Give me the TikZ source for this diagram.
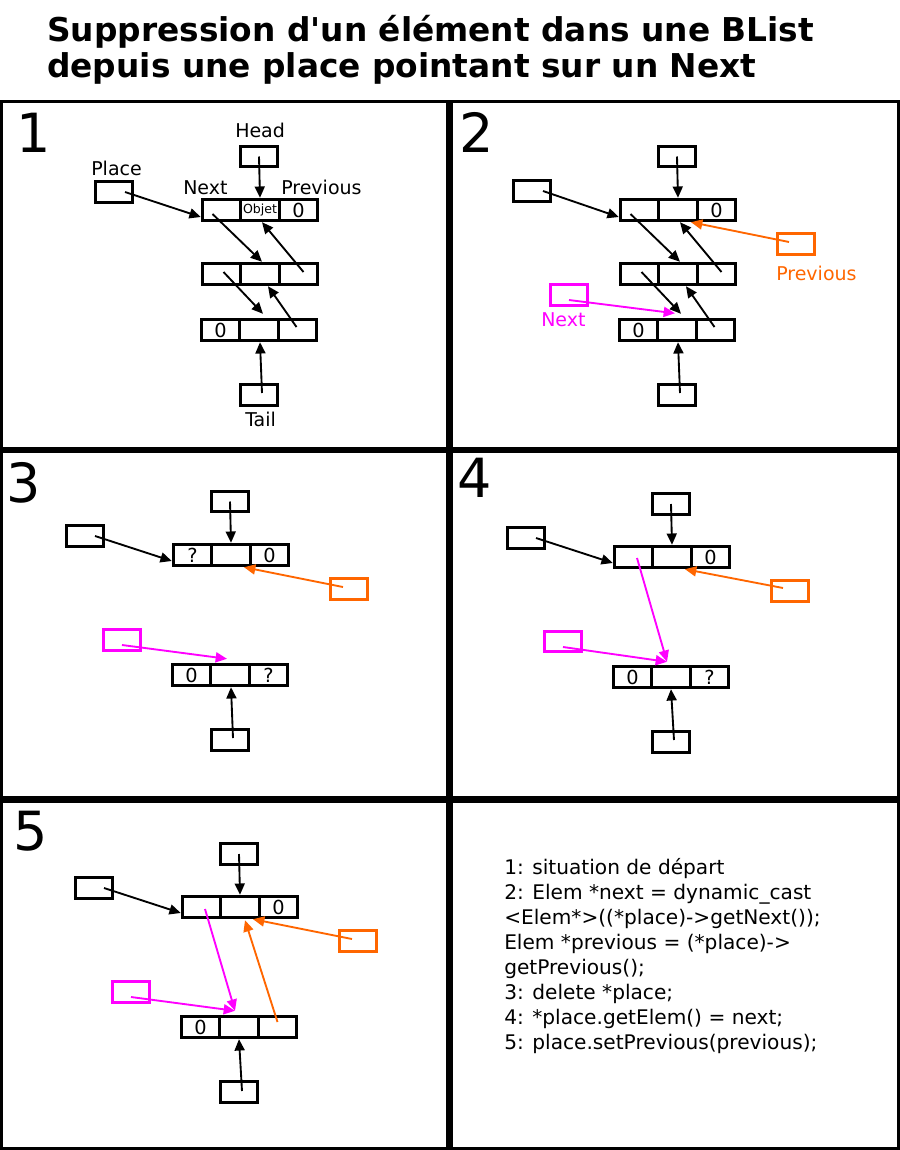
\documentclass[tikz,border=0pt]{standalone}
\usepackage{fontspec}
\setmainfont{DejaVu Sans}
\usetikzlibrary{arrows.meta,calc}
\definecolor{prevcol}{HTML}{FF6600}
\definecolor{nextcol}{HTML}{FF00FF}
\newcommand{\elem}[6]{%
  \node[cell] (#1_a) at (#2-38.5,#3) {#4};
  \node[cell] (#1_b) at (#2,#3) {#5};
  \node[cell] (#1_c) at (#2+38.5,#3) {#6};
}

\begin{document}
\begin{tikzpicture}[x=0.75pt,y=-0.75pt]
			\tikzset{cell/.style={draw, line width=2.2pt, minimum width=28.9pt, minimum height=16.1pt, inner sep=0pt, font=\fontsize{14.5pt}{16pt}\selectfont},
				ptr/.style={draw, line width=2.2pt, minimum width=28.1pt, minimum height=15.4pt, inner sep=0pt},
				lbl/.style={inner sep=0pt, anchor=base west, font=\fontsize{14.25pt}{16pt}\selectfont},
				num/.style={inner sep=0pt, anchor=base west, font=\fontsize{40.5pt}{44pt}\selectfont},
				code/.style={inner sep=0pt, anchor=base west, font=\fontsize{15.1pt}{18pt}\selectfont},
				link/.style={-{Triangle[length=8.5pt,width=7.5pt]}, line width=1.4pt},
				frame/.style={line width=2.4pt}}
			\useasboundingbox (0,0) rectangle (900,1150);
			
			\node[inner sep=0pt, anchor=base west, font=\fontsize{24.6pt}{26pt}\selectfont\bfseries] (title_1) at (47,41.7) {Suppression d\textquotesingle un élément dans une BList};
			\node[inner sep=0pt, anchor=base west, font=\fontsize{24.6pt}{26pt}\selectfont\bfseries] (title_2) at (47,77) {depuis une place pointant sur un Next};
			
			\draw[frame] (1.5,101.5) rectangle (448,448.5);
			\draw[frame] (451.5,101.5) rectangle (898.5,448.5);
			\draw[frame] (1.5,451) rectangle (448,798);
			\draw[frame] (451.5,451) rectangle (898.5,798);
			\draw[frame] (1.5,801) rectangle (448,1148.5);
			\draw[frame] (451.5,801) rectangle (898.5,1148.5);
			
			\node[num] (num_1) at (16,152) {1};
			\node[num] (num_2) at (459,152) {2};
			\node[num] (num_3) at (6,502) {3};
			\node[num] (num_4) at (457,497) {4};
			\node[num] (num_5) at (13,850) {5};
			
			% 1
			\elem{a1}{260}{210}{}{\fontsize{9.4pt}{10pt}\selectfont Objet}{0}
			\elem{a2}{260}{274}{}{}{}
			\elem{a3}{259}{330}{0}{}{}
			\node[ptr] (aH) at (259,156.5) {};
			\node[ptr] (aT) at (259,395) {};
			\node[ptr] (aP) at (114,192) {};
			\node[lbl] (aH_l) at (235,137) {Head};
			\node[lbl] (aP_l) at (91,175) {Place};
			\node[lbl] (aN_l) at (183,194) {Next};
			\node[lbl] (aV_l) at (281,194) {Previous};
			\node[lbl] (aT_l) at (245,426.7) {Tail};
			
			\draw[link] (aH.center) -- (a1_b.north);
			\draw[link] ($(aP.center)+(11,0)$) -- ($(a1_a.west)+(0,7)$);
			\draw[link] ($(a1_a.center)+(-9,4)$) -- ($(a2_b.north)+(2,0)$);
			\draw[link] ($(a2_c.center)+(5,-2)$) -- ($(a1_b.south)+(2,0)$);
			\draw[link] ($(a2_a.center)+(2,-2)$) -- ($(a3_b.north)+(4,-4)$);
			\draw[link] ($(a3_c.center)+(-1,-3)$) -- ($(a2_b.south)+(8,0)$);
			\draw[link] ($(aT.center)+(3,-2)$) -- ($(a3_b.south)+(1,0)$);
			
			% 2
			\elem{b1}{678}{210}{}{}{0}
			\elem{b2}{678}{274}{}{}{}
			\elem{b3}{677}{330}{0}{}{}
			\node[ptr] (bH) at (677,156.5) {};
			\node[ptr] (bT) at (677,395) {};
			\node[ptr] (bP) at (532,191) {};
			\node[ptr, prevcol] (bO) at (796,244) {};
			\node[ptr, nextcol] (bM) at (569,295) {};
			\node[lbl, prevcol] (bO_l) at (776,280) {Previous};
			\node[lbl, nextcol] (bM_l) at (541,326.7) {Next};
			
			\draw[link] (bH.center) -- (b1_b.north);
			\draw[link] ($(bP.center)+(11,0)$) -- ($(b1_a.west)+(0,7)$);
			\draw[link] ($(b1_a.center)+(-9,4)$) -- ($(b2_b.north)+(2,0)$);
			\draw[link] ($(b2_c.center)+(5,-2)$) -- ($(b1_b.south)+(2,0)$);
			\draw[link] ($(b2_a.center)+(2,-2)$) -- ($(b3_b.north)+(4,-4)$);
			\draw[link] ($(b3_c.center)+(-1,-3)$) -- ($(b2_b.south)+(8,0)$);
			\draw[link] ($(bT.center)+(3,-2)$) -- ($(b3_b.south)+(1,0)$);
			\draw[link, prevcol] ($(bO.center)+(-7,-2)$) -- ($(b1_b.south)+(13,0)$);
			\draw[link, nextcol] ($(bM.center)+(0,5)$) -- ($(b3_b.north)+(-2,-4.5)$);
			
			% 3
			\elem{c1}{231}{555}{?}{}{0}
			\elem{c2}{230}{675}{0}{}{?}
			\node[ptr] (cH) at (230,501.5) {};
			\node[ptr] (cT) at (230,740) {};
			\node[ptr] (cP) at (85,536) {};
			\node[ptr, prevcol] (cO) at (349,589) {};
			\node[ptr, nextcol] (cM) at (122,640) {};
			
			\draw[link] (cH.center) -- (c1_b.north);
			\draw[link] ($(cP.center)+(10,0)$) -- ($(c1_a.west)+(0,6)$);
			\draw[link, prevcol] ($(cO.center)+(-6,-2)$) -- ($(c1_b.south)+(13,0)$);
			\draw[link, nextcol] ($(cM.center)+(0,5)$) -- ($(c2_b.north)+(-3,-4)$);
			\draw[link] ($(cT.center)+(3,-2)$) -- ($(c2_b.south)+(1,0)$);
			
			% 4
			\elem{d1}{672}{557}{}{}{0}
			\elem{d2}{671}{677}{0}{}{?}
			\node[ptr] (dH) at (671,504) {};
			\node[ptr] (dT) at (671,742) {};
			\node[ptr] (dP) at (526,538) {};
			\node[ptr, prevcol] (dO) at (790,591) {};
			\node[ptr, nextcol] (dM) at (563,641.5) {};
			\coordinate (dX) at ($(d2_b.north)+(-4,-3)$);
			
			\draw[link] (dH.center) -- (d1_b.north);
			\draw[link] ($(dP.center)+(10,0)$) -- ($(d1_a.west)+(0,6)$);
			\draw[link, prevcol] ($(dO.center)+(-7,-3)$) -- ($(d1_b.south)+(13,0)$);
			\draw[link, nextcol] ($(d1_a.center)+(3.5,1)$) -- (dX);
			\draw[link, nextcol] ($(dM.center)+(0,5.5)$) -- (dX);
			\draw[link] ($(dT.center)+(3,-2)$) -- (d2_b.south);
			
			% 5
			\elem{e1}{240}{907}{}{}{0}
			\elem{e2}{239}{1027}{0}{}{}
			\node[ptr] (eH) at (239,854) {};
			\node[ptr] (eT) at (239,1092) {};
			\node[ptr] (eP) at (94,888) {};
			\node[ptr, prevcol] (eO) at (358,941) {};
			\node[ptr, nextcol] (eM) at (131,992) {};
			\coordinate (eX) at ($(e2_b.north)+(-4,-4)$);
			
			\draw[link] (eH.center) -- (e1_b.north);
			\draw[link] ($(eP.center)+(10,0)$) -- ($(e1_a.west)+(0,6)$);
			\draw[link, prevcol] ($(eO.center)+(-6,-2)$) -- ($(e1_b.south)+(13,0)$);
			\draw[link, prevcol] ($(e2_c.center)+(0,-5)$) -- ($(e1_b.south)+(5,1)$);
			\draw[link, nextcol] ($(e1_a.center)+(3.5,2)$) -- (eX);
			\draw[link, nextcol] ($(eM.center)+(0,5)$) -- (eX);
			\draw[link] ($(eT.center)+(3,-1)$) -- (e2_b.south);
			
			% legende
			\foreach \txt [count=\i] in {{1: situation de départ}, {2: Elem *next = dynamic\_cast}, {<Elem*>((*place)->getNext());}, {Elem *previous = (*place)->}, {getPrevious();}, {3: delete *place;}, {4: *place.getElem() = next;}, {5: place.setPrevious(previous);}}
				\node[code] (t_\i) at (504,{848.9+25.1*\i}) {\txt};
			
		\end{tikzpicture}
\end{document}
